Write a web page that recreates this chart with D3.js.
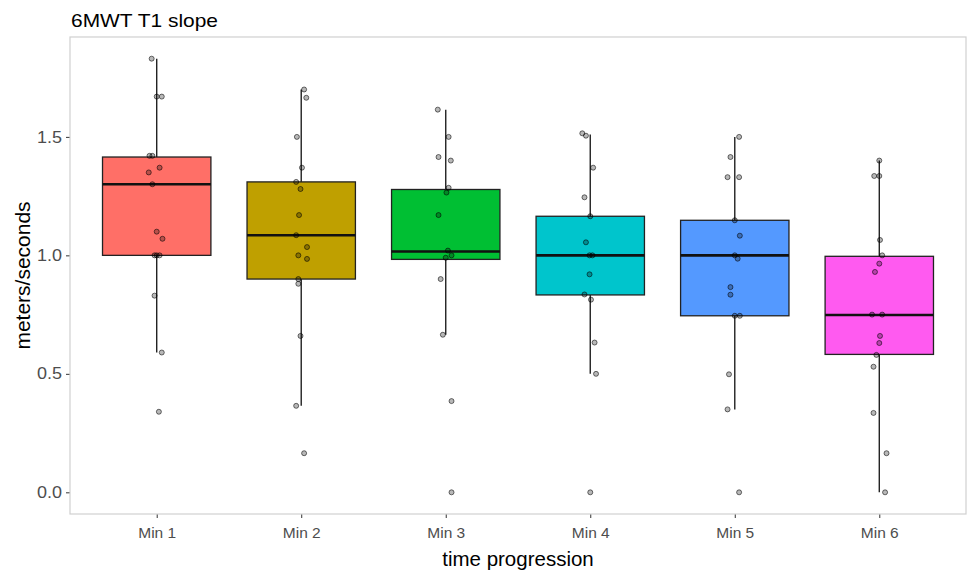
<!DOCTYPE html>
<html>
<head>
<meta charset="utf-8">
<script src="https://cdn.jsdelivr.net/npm/d3@7"></script>
<style>
  body { margin: 0; background: #fff; }
  svg { display: block; font-family: "Liberation Sans", Arial, sans-serif; }
</style>
</head>
<body>
<div id="chart"></div>
<script>
// 6MWT T1 slope - boxplots per minute with jittered points

const categories = ['Min 1', 'Min 2', 'Min 3', 'Min 4', 'Min 5', 'Min 6'];
const fills = ['#FF6F67', '#BFA000', '#00BF33', '#00C5CC', '#5499FF', '#FF5AF0'];

// box stats: [lower whisker, q1, median, q3, upper whisker]
const whiskerLow = [0.59, 0.365, 0.665, 0.50, 0.35, 0.0];
const q1 = [1.0, 0.90, 0.983, 0.833, 0.745, 0.582];
const median = [1.30, 1.085, 1.016, 1.0, 1.0, 0.748];
const q3 = [1.415, 1.31, 1.278, 1.165, 1.148, 0.996];
const whiskerHigh = [1.83, 1.70, 1.615, 1.51, 1.50, 1.40];

// individual observations per category
const pointsMin1 = [1.83, 1.67, 1.67, 1.42, 1.42, 1.37, 1.35, 1.30, 1.10, 1.07, 1.0, 1.0, 1.0, 0.83, 0.59, 0.34];
const pointsMin2 = [1.70, 1.665, 1.50, 1.37, 1.31, 1.28, 1.17, 1.085, 1.035, 1.0, 0.985, 0.90, 0.88, 0.66, 0.365, 0.165];
const pointsMin3 = [1.615, 1.50, 1.415, 1.40, 1.285, 1.265, 1.17, 1.02, 1.0, 0.99, 0.90, 0.665, 0.385, 0.0];
const pointsMin4 = [1.515, 1.505, 1.37, 1.245, 1.165, 1.055, 1.0, 1.0, 0.92, 0.835, 0.813, 0.632, 0.50, 0.0];
const pointsMin5 = [1.50, 1.415, 1.33, 1.33, 1.148, 1.083, 1.0, 0.986, 0.866, 0.834, 0.745, 0.745, 0.498, 0.35, 0.0];
const pointsMin6 = [1.40, 1.335, 1.335, 1.065, 1.0, 0.965, 0.93, 0.75, 0.75, 0.66, 0.63, 0.58, 0.53, 0.335, 0.165, 0.0];

// horizontal jitter (in category units) as seen in the picture
const jitterMin1 = [-0.035, 0, 0.035, -0.05, -0.03, 0.02, -0.055, -0.03, 0, 0.04, -0.015, 0, 0.02, -0.015, 0.035, 0.015];
const jitterMin2 = [0.02, 0.035, -0.03, 0.005, -0.035, -0.005, -0.015, -0.035, 0.04, -0.02, 0.04, -0.02, -0.02, -0.005, -0.035, 0.02];
const jitterMin3 = [-0.055, 0.02, -0.05, 0.035, 0.02, 0.005, -0.05, 0.015, 0.04, 0, -0.035, -0.02, 0.04, 0.04];
const jitterMin4 = [-0.055, -0.03, 0.02, -0.04, 0, -0.03, -0.005, 0.015, -0.005, -0.04, 0.005, 0.03, 0.04, 0];
const jitterMin5 = [0.03, -0.03, -0.05, 0.03, 0, 0.035, 0, 0.02, -0.03, -0.03, 0, 0.035, -0.04, -0.05, 0.03];
const jitterMin6 = [0, -0.035, 0, 0.005, 0.02, 0, -0.03, -0.05, 0.02, 0.005, 0, -0.02, -0.04, -0.04, 0.05, 0.04];

const pointSets = [pointsMin1, pointsMin2, pointsMin3, pointsMin4, pointsMin5, pointsMin6];
const jitterSets = [jitterMin1, jitterMin2, jitterMin3, jitterMin4, jitterMin5, jitterMin6];

const yTicks = [0.0, 0.5, 1.0, 1.5];

const title = '6MWT T1 slope';
const xTitle = 'time progression';
const yTitle = 'meters/seconds';

const width = 970;
const height = 571;
const margin = { top: 37, right: 4, bottom: 57, left: 70 };

const svg = d3.select('#chart').append('svg')
    .attr('width', width)
    .attr('height', height);

const plotW = width - margin.left - margin.right;
const plotH = height - margin.top - margin.bottom;

const g = svg.append('g').attr('transform', `translate(${margin.left},${margin.top})`);

// discrete x with ggplot-like 0.6 expansion on each side
const x = d3.scalePoint()
    .domain(categories)
    .range([0, plotW])
    .padding(0.6);
const step = x.step();

const yMax = d3.max(whiskerHigh);
const yMin = 0;
const pad = (yMax - yMin) * 0.05;
const y = d3.scaleLinear()
    .domain([yMin - pad, yMax + pad])
    .range([plotH, 0]);

// axes
const yAxis = d3.axisLeft(y).tickValues(yTicks).tickFormat(d3.format('.1f')).tickSize(4).tickPadding(4);
const yG = g.append('g').call(yAxis);
yG.select('.domain').remove();
yG.selectAll('line').attr('stroke', '#333').attr('stroke-width', 1);
yG.selectAll('text').attr('fill', '#4d4d4d').style('font-size', '16px')
    .attr('textLength', 25).attr('lengthAdjust', 'spacingAndGlyphs');

const xAxis = d3.axisBottom(x).tickSize(4).tickPadding(9);
const xG = g.append('g').attr('transform', `translate(0,${plotH})`).call(xAxis);
xG.select('.domain').remove();
xG.selectAll('line').attr('stroke', '#333').attr('stroke-width', 1);
xG.selectAll('text').attr('fill', '#4d4d4d').style('font-size', '15.5px');

// boxes
const boxW = step * 0.75;
const boxes = g.append('g').selectAll('g')
    .data(categories)
    .join('g');

boxes.append('line')
    .attr('x1', d => x(d)).attr('x2', d => x(d))
    .attr('y1', (d, i) => y(whiskerHigh[i]))
    .attr('y2', (d, i) => y(q3[i]))
    .attr('stroke', '#222').attr('stroke-width', 1.4);

boxes.append('line')
    .attr('x1', d => x(d)).attr('x2', d => x(d))
    .attr('y1', (d, i) => y(q1[i]))
    .attr('y2', (d, i) => y(whiskerLow[i]))
    .attr('stroke', '#222').attr('stroke-width', 1.4);

boxes.append('rect')
    .attr('x', d => x(d) - boxW / 2)
    .attr('width', boxW)
    .attr('y', (d, i) => y(q3[i]))
    .attr('height', (d, i) => y(q1[i]) - y(q3[i]))
    .attr('fill', (d, i) => fills[i])
    .attr('stroke', '#222')
    .attr('stroke-width', 1.3);

boxes.append('line')
    .attr('x1', d => x(d) - boxW / 2)
    .attr('x2', d => x(d) + boxW / 2)
    .attr('y1', (d, i) => y(median[i]))
    .attr('y2', (d, i) => y(median[i]))
    .attr('stroke', '#111')
    .attr('stroke-width', 2.6);

// jittered points
const pts = [];
pointSets.forEach((arr, i) => {
    arr.forEach((v, j) => pts.push({ cat: categories[i], v: v, jit: jitterSets[i][j] }));
});

g.append('g').selectAll('circle')
    .data(pts)
    .join('circle')
    .attr('cx', d => x(d.cat) + d.jit * step)
    .attr('cy', d => y(d.v))
    .attr('r', 2.5)
    .attr('fill', 'rgba(0,0,0,0.28)')
    .attr('stroke', 'rgba(0,0,0,0.55)')
    .attr('stroke-width', 1);

// panel border
g.append('rect')
    .attr('width', plotW)
    .attr('height', plotH)
    .attr('fill', 'none')
    .attr('stroke', '#d0d0d0')
    .attr('stroke-width', 1.2);

// titles
svg.append('text')
    .attr('x', margin.left + 1)
    .attr('y', 27)
    .attr('fill', '#000')
    .style('font-size', '19px')
    .attr('textLength', 147).attr('lengthAdjust', 'spacingAndGlyphs')
    .text(title);

svg.append('text')
    .attr('x', margin.left + plotW / 2)
    .attr('y', 566)
    .attr('text-anchor', 'middle')
    .attr('fill', '#000')
    .style('font-size', '20.5px')
    .text(xTitle);

svg.append('text')
    .attr('transform', `translate(30,${margin.top + plotH / 2}) rotate(-90)`)
    .attr('text-anchor', 'middle')
    .attr('fill', '#000')
    .style('font-size', '21px')
    .text(yTitle);
</script>
</body>
</html>
